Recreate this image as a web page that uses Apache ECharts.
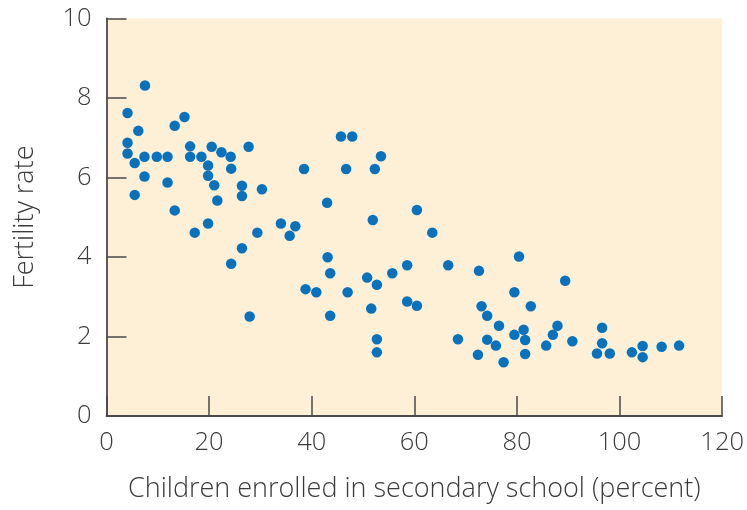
<!DOCTYPE html>
<html>
<head>
<meta charset="utf-8">
<script src="https://cdn.jsdelivr.net/npm/echarts@6/dist/echarts.min.js"></script>
<style>html,body{margin:0;padding:0;background:#fff;}#c{width:747px;height:510px;}</style>
</head>
<body>
<div id="c"></div>
<script>
var enrolled = [7.5,4.1,15.2,13.3,6.2,4.1,4.1,5.5,7.4,9.8,11.9,16.3,16.3,18.5,20.5,22.4,24.2,27.7,19.8,24.3,7.4,19.8,11.9,21.0,26.4,5.5,26.4,21.6,30.3,13.3,19.8,17.2,34.0,36.8,35.7,29.4,26.4,24.3,27.9,45.7,47.9,53.5,38.5,46.7,52.3,43.0,60.5,51.9,63.5,43.1,43.6,50.8,52.7,55.7,58.6,66.6,38.8,40.9,47.0,43.6,51.6,58.6,60.5,52.7,52.7,68.5,72.6,80.4,89.4,79.5,73.1,82.7,74.2,76.5,81.3,87.9,96.6,79.5,87.0,74.2,81.6,90.8,75.9,85.7,96.6,104.5,108.2,111.6,72.4,81.6,95.6,98.1,102.4,104.5,77.4];
var fertility = [8.31,7.62,7.52,7.30,7.17,6.87,6.60,6.36,6.52,6.52,6.52,6.78,6.52,6.52,6.77,6.63,6.52,6.77,6.30,6.22,6.02,6.04,5.87,5.80,5.79,5.56,5.53,5.42,5.70,5.17,4.84,4.61,4.84,4.77,4.53,4.61,4.22,3.83,2.50,7.03,7.03,6.53,6.21,6.21,6.21,5.36,5.18,4.93,4.61,3.99,3.59,3.48,3.30,3.59,3.79,3.79,3.19,3.11,3.11,2.52,2.70,2.88,2.77,1.93,1.60,1.93,3.65,4.01,3.40,3.11,2.76,2.76,2.52,2.27,2.17,2.27,2.22,2.04,2.04,1.92,1.91,1.88,1.77,1.77,1.83,1.76,1.74,1.77,1.54,1.56,1.57,1.57,1.60,1.48,1.35];
var xTicks = [0,20,40,60,80,100,120];
var yTicks = [0,2,4,6,8,10];
var xTitle = 'Children enrolled in secondary school (percent)';
var yTitle = 'Fertility rate';

var pts = enrolled.map(function(x,i){return [x, fertility[i]];});
var font = '"Open Sans", Roboto, sans-serif';
var axisCommon = {
  axisLine:{show:true, onZero:false, lineStyle:{color:'#4a4a4a', width:1.8}},
  axisTick:{show:true, inside:true, length:20, lineStyle:{color:'#4a4a4a', width:1.5}},
  splitLine:{show:false},
  nameLocation:'middle',
  nameTextStyle:{fontFamily:font, fontWeight:300, fontSize:27, color:'#3a3a3a'},
};
var chart = echarts.init(document.getElementById('c'), null, {renderer:'canvas'});
chart.setOption({
  animation:false,
  backgroundColor:'#ffffff',
  grid:{left:106.5, right:24.3, top:18.3, bottom:94, show:true, backgroundColor:'#fdf0d6', borderWidth:0},
  xAxis:Object.assign({}, axisCommon, {
    type:'value', min:xTicks[0], max:xTicks[xTicks.length-1], interval:20,
    name:xTitle, nameGap:60,
    axisLabel:{fontFamily:font, fontWeight:300, fontSize:25.5, color:'#3a3a3a', margin:14,
      formatter:function(v){return xTicks.indexOf(v)>=0 ? String(v) : '';}}
  }),
  yAxis:Object.assign({}, axisCommon, {
    type:'value', min:yTicks[0], max:yTicks[yTicks.length-1], interval:2,
    name:yTitle, nameGap:68,
    axisLabel:{fontFamily:font, fontWeight:300, fontSize:25.5, color:'#3a3a3a', margin:15,
      formatter:function(v){return yTicks.indexOf(v)>=0 ? String(v) : '';}}
  }),
  series:[{
    type:'scatter', data:pts, symbol:'circle', symbolSize:10.5,
    itemStyle:{color:'#0a72bd', opacity:1}
  }]
});
</script>
</body>
</html>
